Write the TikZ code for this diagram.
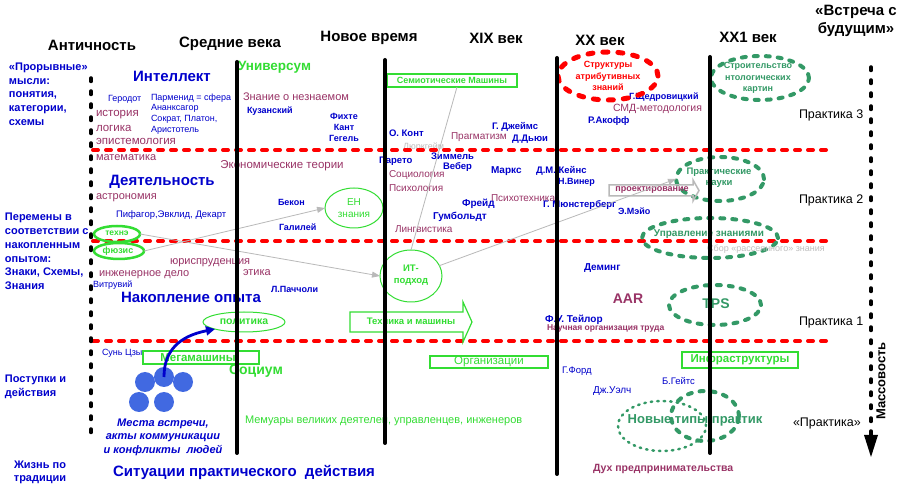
\documentclass[tikz,border=0pt]{standalone}
\usepackage{fontspec}
\setmainfont{Liberation Sans}
\usetikzlibrary{shapes.geometric,arrows.meta}
\definecolor{cblue}{RGB}{0,0,204}
\definecolor{cmar}{RGB}{153,51,102}
\definecolor{cgr}{RGB}{51,221,51}
\definecolor{cdg}{RGB}{51,153,102}
\definecolor{cgray}{RGB}{185,185,185}
\definecolor{cltg}{RGB}{190,190,190}
\definecolor{cball}{RGB}{65,105,225}
\newcommand{\fsz}[2]{\fontsize{#1}{#2}\selectfont}
\begin{document}
\begin{tikzpicture}[x=1pt,y=-1pt,
  every node/.style={inner sep=0pt,outer sep=0pt},
  hdr/.style={font=\bfseries\fsz{15}{18}, align=center},
  sect/.style={font=\bfseries\fsz{15}{18}, text=cblue},
  side/.style={font=\bfseries\fsz{11}{13.7}, text=cblue, align=left, anchor=west},
  nm/.style={font=\fsz{9}{10.7}, text=cblue, anchor=west},
  nmb/.style={font=\bfseries\fsz{9}{11}, text=cblue, anchor=west},
  disc/.style={font=\fsz{11.5}{13}, text=cmar, anchor=west},
  discs/.style={font=\fsz{10}{12}, text=cmar, anchor=west},
  prk/.style={font=\fsz{12.5}{14}, anchor=west},
  gbox/.style={draw=cgr, line width=1.2pt, rectangle},
  thinell/.style={ellipse, draw=cgr, line width=1pt},
  dgell/.style={ellipse, draw=cdg, line width=4pt, dash pattern=on 4pt off 8pt, line cap=round},
  redline/.style={draw=red, line width=4pt, dash pattern=on 5pt off 8pt, line cap=round},
  vline/.style={line width=4pt, line cap=round},
  bdash/.style={line width=3.5pt, dash pattern=on 3.5pt off 9.5pt, line cap=round},
  garrow/.style={draw=cgray, line width=0.8pt, -{Triangle[length=8pt,width=6pt]}},
]
\useasboundingbox (0,0) rectangle (906,494);
\fill[white] (0,0) rectangle (906,494);

% gray text under red line
\node[font=\fsz{9}{10}, text=cltg, anchor=west] (durk) at (403,147) {Дюркгейм};

% red dashed horizontal lines
\draw[redline] (93,150) -- (828,150);
\draw[redline] (93,241) -- (828,241);
\draw[redline] (93,341) -- (828,341);

% left and right dashed black lines
\draw[bdash] (91,78) -- (91,440);
\coordinate (rtop) at (871,67);
\coordinate (rbot) at (871,457);
\draw[bdash] (rtop) -- (871,436);
\fill (864,435) -- (878,435) -- (rbot) -- cycle;

% headers
\node[hdr] (h1) at (92,45) {Античность};
\node[hdr] (h2) at (230,44) {Средние века};
\node[hdr] (h3) at (369,38) {Новое время};
\node[hdr] (h4) at (496,38) {XIX век};
\node[hdr] (h5) at (600,40) {XX век};
\node[hdr] (h6) at (748,37) {XX1 век};
\node[hdr] (h7) at (856,21) {«Встреча с\\будущим»};

% side labels
\node[side] (s1) at (9,94) {«Прорывные»\\мысли:\\понятия,\\категории,\\схемы};
\node[side] (s2) at (5,251.5) {Перемены в\\соответствии с\\накопленным\\опытом:\\Знаки, Схемы,\\Знания};
\node[side] (s3) at (5,386.5) {Поступки и\\действия};
\node[side, align=center, anchor=center] (s4) at (40,472.5) {Жизнь по\\традиции};

% section titles
\node[sect] (t1) at (172,76) {Интеллект};
\node[sect] (t2) at (162,182) {Деятельность};
\node[sect] (t3) at (191,297) {Накопление опыта};
\node[sect] (t4) at (244,472) {Ситуации практического\ \ действия};
\node[font=\bfseries\fsz{13.5}{15}, text=cgr, anchor=west] (univ) at (238,67) {Универсум};
\node[font=\bfseries\fsz{14}{16}, text=cgr] (soc) at (256,371) {Социум};

% disciplines (maroon)
\node[disc] (d1) at (96,115) {история};
\node[disc] (d2) at (96,128) {логика};
\node[disc] (d3) at (96,141) {эпистемология};
\node[disc, font=\fsz{11}{13}] (d4) at (96,158) {математика};
\node[disc, font=\fsz{11}{13}] (d5) at (96,198) {астрономия};
\node[disc, font=\fsz{11}{13}] (d6) at (170,263) {юриспруденция};
\node[disc, font=\fsz{11}{13}] (d7) at (99,275) {инженерное дело};
\node[disc, font=\fsz{11}{13}] (d8) at (243,273) {этика};
\node[disc, font=\fsz{11}{13}] (d9) at (243,97) {Знание о незнаемом};
\node[disc, anchor=center] (d10) at (282,166) {Экономические теории};
\node[discs] (d11) at (451,137) {Прагматизм};
\node[discs] (d12) at (389,175) {Социология};
\node[discs] (d13) at (389,188) {Психология};
\node[discs] (d14) at (395,229) {Лингвистика};
\node[discs] (d15) at (491,198) {Психотехника};
\node[discs, font=\fsz{10.5}{12}] (d16) at (613,109) {СМД-методология};
\node[discs, font=\bfseries\fsz{8.5}{10}] (d17) at (547,328.5) {Научная организация труда};
\node[discs, font=\bfseries\fsz{10.5}{12}] (d18) at (593,469) {Дух предпринимательства};
\node[font=\bfseries\fsz{14}{16}, text=cmar] (aar) at (628,299) {AAR};

% names (blue)
\node[nm] (n1) at (108,99) {Геродот};
\node[nm, align=left] (n2) at (151,114) {Парменид = сфера\\Ананксагор\\Сократ, Платон,\\Аристотель};
\node[nmb] (n3) at (247,111) {Кузанский};
\node[nmb, align=center, anchor=center] (n4) at (344,127) {Фихте\\Кант\\Гегель};
\node[nmb, font=\bfseries\fsz{9.5}{11}] (n5) at (389,133) {О. Конт};
\node[nmb, font=\bfseries\fsz{9.5}{11}] (n6) at (492,127) {Г. Джеймс};
\node[nmb, font=\bfseries\fsz{9.5}{11}] (n7) at (512,139) {Д.Дьюи};
\node[nmb, font=\bfseries\fsz{9.5}{11}] (n8) at (431,156) {Зиммель};
\node[nmb, font=\bfseries\fsz{9.5}{11}] (n9) at (379,161) {Парето};
\node[nmb, font=\bfseries\fsz{9.5}{11}] (n10) at (443,167) {Вебер};
\node[nmb, font=\bfseries\fsz{10}{11}] (n11) at (491,171) {Маркс};
\node[nmb, font=\bfseries\fsz{9.5}{11}] (n12) at (536,171) {Д.М. Кейнс};
\node[nmb] (n13) at (558,182) {Н.Винер};
\node[nmb, font=\bfseries\fsz{10}{11}] (n14) at (462,204) {Фрейд};
\node[nmb, font=\bfseries\fsz{9.5}{11}] (n15) at (543,205) {Г. Мюнстерберг};
\node[nmb, font=\bfseries\fsz{10}{11}] (n16) at (433,217) {Гумбольдт};
\node[nmb] (n17) at (278,202) {Бекон};
\node[nmb] (n18) at (279,227) {Галилей};
\node[nm, font=\fsz{9.5}{11}] (n19) at (116,215) {Пифагор,Эвклид, Декарт};
\node[nm] (n20) at (93,285) {Витрувий};
\node[nmb] (n21) at (271,289) {Л.Паччоли};
\node[nm] (n22) at (102,353) {Сунь Цзы};
\node[nmb] (n23) at (618,211) {Э.Мэйо};
\node[nmb, font=\bfseries\fsz{10}{11}] (n24) at (584,268) {Деминг};
\node[nmb, font=\bfseries\fsz{10}{11}] (n25) at (545,320) {Ф.У. Тейлор};
\node[nm, font=\fsz{9.5}{11}] (n26) at (562,371) {Г.Форд};
\node[nm, font=\fsz{10}{11}] (n27) at (593,391) {Дж.Уэлч};
\node[nm, font=\fsz{9.5}{11}] (n28) at (662,381) {Б.Гейтс};
\node[nmb] (n29) at (629,97) {Г.Щедровицкий};
\node[nmb, font=\bfseries\fsz{9.5}{11}] (n30) at (588,121) {Р.Акофф};

% practice labels
\node[prk] (p3) at (799,115) {Практика 3};
\node[prk] (p2) at (799,200) {Практика 2};
\node[prk] (p1) at (799,322) {Практика 1};
\node[prk] (p0) at (793,423) {«Практика»};
\node[font=\bfseries\fsz{13}{15}, rotate=90] (mass) at (881,381) {Массовость};

% thin green ellipses
\node[thinell, minimum width=58pt, minimum height=40pt] (en) at (354,208) {};
\node[font=\fsz{10}{11.5}, text=cgr, align=center] (ent) at (354,208) {ЕН\\знания};
\node[thinell, minimum width=62pt, minimum height=52pt] (it) at (411,276) {};
\node[font=\bfseries\fsz{9.5}{12}, text=cgr, align=center] (itt) at (411,275) {ИТ-\\подход};
\node[thinell, minimum width=82pt, minimum height=20pt] (pol) at (244,322) {};
\node[font=\bfseries\fsz{10.5}{12}, text=cgr] (polt) at (244,322) {политика};
\node[ellipse, draw=cgr, line width=2.5pt, minimum width=46pt, minimum height=16pt] (tehne) at (117,234) {};
\node[font=\bfseries\fsz{8.5}{10}, text=cgr] (tehnet) at (117,233) {технэ};
\node[ellipse, draw=cgr, line width=2.5pt, minimum width=50pt, minimum height=16pt] (fuz) at (119,251) {};
\node[font=\bfseries\fsz{9}{10}, text=cgr] (fuzt) at (118,251) {фюзис};

% dashed ellipses
\node[ellipse, draw=red, line width=5pt, dash pattern=on 5pt off 10pt, line cap=round, minimum width=100pt, minimum height=48pt] (str) at (608,76) {};
\node[font=\bfseries\fsz{9}{11.5}, text=red, align=center] (strt) at (608,76) {Структуры\\атрибутивных\\знаний};
\node[dgell, minimum width=98pt, minimum height=44pt] (stro) at (760,78) {};
\node[font=\bfseries\fsz{9}{11.5}, text=cdg, align=center] (strot) at (758,78) {Строительство\\нтологических\\картин};
\node[dgell, minimum width=88pt, minimum height=44pt] (prak) at (720,179) {};
\node[font=\bfseries\fsz{9.5}{11}, text=cdg, align=center] (prakt) at (719,178) {Практические\\науки};
\node[dgell, minimum width=136pt, minimum height=40pt] (upr) at (710,238) {};
\node[font=\bfseries\fsz{10}{12}, text=cdg] (uprt) at (709,234) {Управление знаниями};
\node[font=\fsz{9}{10}, text=cltg] (sbor) at (766,249) {Сбор «рассеянного» знания};
\node[dgell, minimum width=92pt, minimum height=40pt] (tps) at (715,305) {};
\node[font=\bfseries\fsz{14}{16}, text=cdg] (tpst) at (716,304) {TPS};
\node[ellipse, draw=cdg, line width=2.5pt, dash pattern=on 1.5pt off 5pt, line cap=round, minimum width=88pt, minimum height=50pt] (nA) at (662,426) {};
\node[dgell, minimum width=68pt, minimum height=50pt] (nB) at (705,416) {};
\node[font=\bfseries\fsz{13}{15}, text=cdg] (nt) at (695,420) {Новые типы практик};

% green boxes
\node[gbox, minimum width=130pt, minimum height=13pt] (sem) at (452,80.5) {};
\node[font=\bfseries\fsz{9}{10}, text=cgr] (semt) at (452,80.5) {Семиотические Машины};
\node[gbox, minimum width=116pt, minimum height=13pt] (mega) at (201,357.5) {};
\node[font=\bfseries\fsz{11.5}{13}, text=cgr] (megat) at (198,357.5) {Мегамашины};
\node[gbox, minimum width=118pt, minimum height=12pt] (org) at (489,362) {};
\node[font=\fsz{11.5}{13}, text=cgr] (orgt) at (489,362) {Организации};
\node[gbox, minimum width=116pt, minimum height=16pt] (inf) at (740,360) {};
\node[font=\bfseries\fsz{11.5}{13}, text=cgr] (inft) at (740,360) {Инфраструктуры};

% arrow shapes
\draw[draw=cgr, line width=1.2pt] (350,312) -- (463,312) -- (463,302) -- (472,322) -- (463,342) -- (463,332) -- (350,332) -- cycle;
\node[font=\bfseries\fsz{9.5}{11}, text=cgr] (tech) at (411,321) {Техника и машины};
\draw[draw=cgray, line width=1.5pt] (609,185) -- (693,185) -- (693,180) -- (699,190.5) -- (693,201) -- (693,196) -- (609,196) -- cycle;
\node[font=\bfseries\fsz{9}{10}, text=cmar] (proj) at (652,190.5) {проектирование};

% other texts
\node[font=\fsz{11}{13}, text=cgr, anchor=west] (mem) at (245,421) {Мемуары великих деятелей, управленцев, инженеров};
\node[font=\bfseries\itshape\fsz{11}{13.5}, text=cblue, align=center] (mesta) at (163,437) {Места встречи,\\акты коммуникации\\и конфликты\ \ людей};

% balls
\node[circle, fill=cball, minimum size=20pt] (b1) at (145,382) {};
\node[circle, fill=cball, minimum size=20pt] (b2) at (164,377) {};
\node[circle, fill=cball, minimum size=20pt] (b3) at (183,382) {};
\node[circle, fill=cball, minimum size=20pt] (b4) at (139,402) {};
\node[circle, fill=cball, minimum size=20pt] (b5) at (164,402) {};

% connectors
\draw[garrow] (tehne.east) -- (it.west);
\draw[garrow] (fuz.east) -- (en.west);
\draw[draw=cgray, line width=0.8pt] (it.north) -- ([xshift=5pt]sem.south);
\draw[garrow] (it.20) -- (prak.west);
\draw[cblue, line width=2.8pt, -{Triangle[length=9pt,width=9pt]}] (b2.center) .. controls (164,350) and (180,336) .. (pol.south west);

% vertical black lines
\draw[vline] (237,62) -- (237,453);
\draw[vline] (385,60) -- (385,443);
\draw[vline] (557,58) -- (557,474);
\draw[vline] (710,57) -- (710,453);
\end{tikzpicture}
\end{document}
